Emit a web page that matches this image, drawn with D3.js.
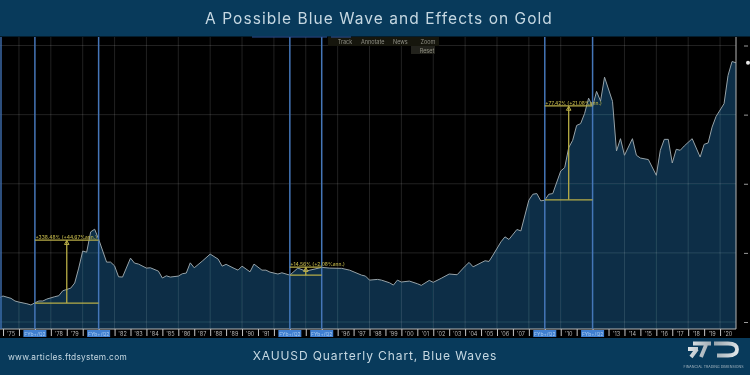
<!DOCTYPE html>
<html>
<head>
<meta charset="utf-8">
<script src="https://cdn.jsdelivr.net/npm/d3@7"></script>
<style>
	html, body { margin: 0; padding: 0; background: #000; }
	svg { display: block; }
	text { font-family: Inter, "Open Sans", sans-serif; }
</style>
</head>
<body>
<div id="chart"></div>
<script>
'use strict';

var dates = [
	1974.75, 1975, 1975.5, 1975.75, 1976, 1976.5, 1976.75, 1977, 1977.25, 1977.5, 1977.75,
	1978.25, 1978.5, 1978.75, 1979.25, 1979.5, 1979.75, 1980, 1980.25, 1980.5, 1980.75,
	1981, 1981.5, 1981.75, 1982, 1982.25, 1982.5, 1983, 1983.25, 1983.5, 1984, 1984.25, 1984.75,
	1985, 1985.25, 1985.5, 1986, 1986.25, 1986.5, 1986.75, 1987, 1987.5, 1988, 1988.5, 1988.75,
	1989, 1989.5, 1989.75, 1990, 1990.5, 1990.75, 1991.25, 1991.5, 1991.75, 1992.25, 1992.5,
	1993, 1993.5, 1994, 1995, 1995.5, 1996.25, 1996.75, 1997.5, 1997.75, 1998, 1998.5, 1998.75,
	1999.25, 1999.5, 1999.75, 2000, 2000.5, 2001, 2001.25, 2001.75, 2002, 2002.5, 2003, 2003.5,
	2004, 2004.25, 2004.5, 2005.25, 2005.5, 2005.75, 2006.25, 2006.5, 2006.75, 2007.25, 2007.5,
	2008, 2008.25, 2008.5, 2008.75, 2009, 2009.25, 2009.5, 2010, 2010.25, 2010.5, 2010.75,
	2011, 2011.25, 2011.5, 2011.75, 2012, 2012.25, 2012.5, 2012.75, 2013.25, 2013.5, 2013.75,
	2014, 2014.5, 2014.75, 2015, 2015.5, 2016, 2016.25, 2016.5, 2016.75, 2017, 2017.25, 2017.5,
	2017.75, 2018.25, 2018.75, 2019, 2019.25, 2019.5, 2019.75, 2020.25, 2020.5, 2020.75, 2021
];
var prices = [
	175, 188, 171, 152, 144, 132, 123, 139, 152, 152, 166,
	183, 190, 226, 245, 282, 390, 513, 505, 652, 671,
	599, 433, 433, 406, 327, 325, 462, 426, 419, 390, 392, 368,
	318, 334, 325, 332, 349, 354, 428, 392, 440, 491, 455, 404,
	417, 388, 375, 404, 363, 419, 375, 375, 361, 347, 356,
	339, 390, 368, 395, 390, 388, 375, 339, 332, 303, 308, 303,
	284, 267, 303, 289, 296, 277, 265, 301, 287, 316, 347, 342,
	404, 431, 399, 443, 438, 484, 580, 616, 597, 669, 659,
	881, 924, 929, 876, 881, 924, 929, 1092, 1117, 1261, 1314,
	1422, 1435, 1509, 1619, 1559, 1668, 1598, 1771, 1596, 1237, 1326,
	1206, 1326, 1206, 1186, 1175, 1061, 1242, 1321, 1321, 1150, 1249, 1242,
	1273, 1326, 1193, 1285, 1295, 1410, 1487, 1579, 1783, 1884, 1875
];

var waveStarts = [1977, 1993, 2009];
var waveEnds = [1981, 1995, 2012];
var waveLows = [137, 339, 884];
var waveHighs = [592, 397, 1563];
var waveLabels = ['+338.48% (+44.67%ann.)', '+14.56% (+2.08%ann.)', '+77.42% (+21.08%ann.)'];

var priceTicks = [0, 500, 1000, 1500, 2000];
var yearTicks = d3.range(1975, 2021);
var gridYears = d3.range(1976, 2021, 2);
var flagLabel = 'FYb+/Q2';
var toolbarTop = ['Track', 'Annotate', 'News', 'Zoom'];

var width = 750;
var height = 375;
var plot = {left: 0, right: 736, top: 37, bottom: 329};
var yellow = '#b8ad47';

var x = d3.scaleLinear().domain([1974.81, 2021]).range([plot.left, plot.right]);
var y = d3.scaleLinear().domain([0, 2000]).range([322, 45.5]);

var svg = d3.select('#chart').append('svg')
	.attr('width', width)
	.attr('height', height);

var defs = svg.append('defs');
defs.append('filter').attr('id', 'soft')
	.attr('filterUnits', 'userSpaceOnUse')
	.attr('x', 0).attr('y', 0).attr('width', width).attr('height', height)
	.append('feGaussianBlur').attr('stdDeviation', 0.5);

var logoFill = defs.append('linearGradient').attr('id', 'logoFill')
	.attr('gradientUnits', 'userSpaceOnUse')
	.attr('x1', 688).attr('x2', 738).attr('y1', 342).attr('y2', 356);
logoFill.append('stop').attr('offset', 0).attr('stop-color', '#e4e9ec');
logoFill.append('stop').attr('offset', 0.5).attr('stop-color', '#9aa6ae');
logoFill.append('stop').attr('offset', 1).attr('stop-color', '#e4e9ec');

svg.append('rect').attr('width', width).attr('height', height).attr('fill', '#000');

// header and footer bands
svg.append('rect').attr('width', width).attr('height', 36.5).attr('fill', '#083a5b');
svg.append('rect').attr('y', 338).attr('width', width).attr('height', 37).attr('fill', '#083a5b');

var chart = svg.append('g').attr('filter', 'url(#soft)');

var data = dates.map(function(d, i) { return {date: d, price: prices[i]}; });

chart.append('path')
	.datum(data)
	.attr('fill', '#0a2e46')
	.attr('d', d3.area()
		.x(function(d) { return x(d.date); })
		.y0(plot.bottom)
		.y1(function(d) { return y(d.price); }));

// grid sits over the area
chart.append('g').selectAll('line').data(gridYears).enter().append('line')
	.attr('x1', function(d) { return x(d); })
	.attr('x2', function(d) { return x(d); })
	.attr('y1', plot.top)
	.attr('y2', plot.bottom)
	.attr('stroke', '#fff')
	.attr('stroke-opacity', 0.13);

chart.append('g').selectAll('line').data(priceTicks).enter().append('line')
	.attr('x1', plot.left)
	.attr('x2', plot.right)
	.attr('y1', function(d) { return y(d); })
	.attr('y2', function(d) { return y(d); })
	.attr('stroke', '#fff')
	.attr('stroke-opacity', 0.13);

chart.append('path')
	.datum(data)
	.attr('fill', 'none')
	.attr('stroke', '#97a2a8')
	.attr('stroke-width', 1)
	.attr('d', d3.line()
		.x(function(d) { return x(d.date); })
		.y(function(d) { return y(d.price); }));

// frame
chart.append('path')
	.attr('d', 'M' + plot.left + ',' + plot.bottom + 'H' + plot.right + 'V' + plot.top)
	.attr('fill', 'none')
	.attr('stroke', '#b5b5b5')
	.attr('stroke-width', 1);

// year axis
var xAxis = d3.axisBottom(x)
	.tickValues(yearTicks)
	.tickSize(7)
	.tickFormat('');

var xAxisG = chart.append('g')
	.attr('transform', 'translate(0,' + plot.bottom + ')')
	.call(xAxis);
xAxisG.select('.domain').remove();
xAxisG.selectAll('line').attr('stroke', '#c5c5c5');

var flagged = d3.merge([waveStarts, waveEnds]);
var flagYears = flagged.concat(flagged.map(function(d) { return d - 1; }));

chart.append('g').selectAll('text')
	.data(yearTicks.filter(function(d) { return flagYears.indexOf(d) < 0; }))
	.enter().append('text')
	.attr('x', function(d) { return x(d + 0.5); })
	.attr('y', 335.5)
	.attr('text-anchor', 'middle')
	.attr('font-size', 5.5)
	.attr('fill', '#b5b5b5')
	.text(function(d) { return "'" + String(d).slice(2); });

// right axis
var yAxis = d3.axisRight(y).tickValues(priceTicks).tickSize(4).tickFormat('');
var yAxisG = chart.append('g')
	.attr('transform', 'translate(744,0)')
	.call(yAxis);
yAxisG.select('.domain').remove();
yAxisG.selectAll('line').attr('stroke', '#9a9a9a');

chart.append('circle')
	.attr('cx', 748)
	.attr('cy', y(prices[prices.length - 1]))
	.attr('r', 2)
	.attr('fill', '#e8e8e8');

// blue wave lines with their date flags
var waveLines = d3.merge([waveStarts, waveEnds]);

chart.append('line')
	.attr('x1', 1).attr('x2', 1)
	.attr('y1', plot.top).attr('y2', plot.bottom)
	.attr('stroke', '#3f6fb2').attr('stroke-width', 1.4);

chart.append('g').selectAll('line').data(waveLines).enter().append('line')
	.attr('x1', function(d) { return x(d); })
	.attr('x2', function(d) { return x(d); })
	.attr('y1', plot.top)
	.attr('y2', plot.bottom)
	.attr('stroke', '#4576b8')
	.attr('stroke-width', 1.5);

var flags = chart.append('g').selectAll('g').data(waveLines).enter().append('g')
	.attr('transform', function(d) { return 'translate(' + x(d) + ',330)'; });

flags.append('rect')
	.attr('x', -11.5)
	.attr('width', 23)
	.attr('height', 7)
	.attr('fill', '#3f7fd0');

flags.append('text')
	.attr('y', 5.8)
	.attr('text-anchor', 'middle')
	.attr('font-size', 5)
	.attr('fill', '#a9c9ee')
	.text(flagLabel);

// yellow measure annotations
var waves = chart.append('g').selectAll('g').data(waveStarts).enter().append('g')
	.attr('stroke', yellow)
	.attr('fill', 'none');

function addWaveLevel(values) {
	waves.append('line')
		.attr('x1', function(d) { return x(d); })
		.attr('x2', function(d, i) { return x(waveEnds[i]); })
		.attr('y1', function(d, i) { return y(values[i]); })
		.attr('y2', function(d, i) { return y(values[i]); })
		.attr('stroke-width', 1.3);
}
addWaveLevel(waveLows);
addWaveLevel(waveHighs);

waves.append('line')
	.attr('x1', function(d, i) { return x((d + waveEnds[i]) / 2); })
	.attr('x2', function(d, i) { return x((d + waveEnds[i]) / 2); })
	.attr('y1', function(d, i) { return y(waveLows[i]); })
	.attr('y2', function(d, i) { return y(waveHighs[i]); })
	.attr('stroke-width', 1.3);

waves.append('path')
	.attr('transform', function(d, i) {
		return 'translate(' + x((d + waveEnds[i]) / 2) + ',' + (y(waveHighs[i]) + 3) + ')';
	})
	.attr('d', d3.symbol().type(d3.symbolTriangle).size(9));

waves.append('text')
	.attr('x', function(d) { return x(d) + 0.5; })
	.attr('y', function(d, i) { return y(waveHighs[i]) - 1.2; })
	.attr('font-size', 4.9)
	.attr('font-weight', 500)
	.attr('stroke', 'none')
	.attr('fill', yellow)
	.text(function(d, i) { return waveLabels[i]; });

// chart toolbar
var toolbar = chart.append('g');
toolbar.append('rect').attr('x', 328).attr('y', 37).attr('width', 111).attr('height', 9).attr('fill', '#15150f');
toolbar.append('rect').attr('x', 411).attr('y', 46).attr('width', 24).attr('height', 8).attr('fill', '#22221c');

var toolbarX = d3.scalePoint().domain(toolbarTop).range([345, 428]);
toolbar.selectAll('text.top').data(toolbarTop).enter().append('text')
	.attr('class', 'top')
	.attr('x', function(d) { return toolbarX(d); })
	.attr('y', 44)
	.attr('text-anchor', 'middle')
	.attr('font-size', 5.5)
	.attr('fill', '#8f8f82')
	.text(function(d) { return d; });

toolbar.append('text')
	.attr('x', 427).attr('y', 52.5)
	.attr('text-anchor', 'middle')
	.attr('font-size', 5.5)
	.attr('fill', '#8f8f82')
	.text('Reset');

toolbar.append('path')
	.attr('d', 'M252,37H327M331,37H351')
	.attr('stroke', '#2f57a0')
	.attr('stroke-width', 1.2);

// page texts
var pageText = svg.append('g').attr('filter', 'url(#soft)').attr('fill', '#c6d8e2');

pageText.append('text')
	.attr('x', 379)
	.attr('y', 24)
	.attr('text-anchor', 'middle')
	.attr('font-size', 15.5)
	.attr('letter-spacing', 1.05)
	.text('A Possible Blue Wave and Effects on Gold');

pageText.append('text')
	.attr('x', 8)
	.attr('y', 360)
	.attr('font-size', 8.3)
	.attr('letter-spacing', 0.3)
	.text('www.articles.ftdsystem.com');

pageText.append('text')
	.attr('x', 375)
	.attr('y', 360)
	.attr('text-anchor', 'middle')
	.attr('font-size', 12)
	.attr('letter-spacing', 0.9)
	.text('XAUUSD Quarterly Chart, Blue Waves');

// logo
var logo = svg.append('g').attr('filter', 'url(#soft)');

logo.append('path')
	.attr('d', 'M693,343.5H711M688,349H698M697,349L691,357M706,345L701,357M714,343.5H728Q737,343.5 737,349.5Q737,355.5 728,355.5H717')
	.attr('fill', 'none')
	.attr('stroke', 'url(#logoFill)')
	.attr('stroke-width', 3.8);

logo.append('text')
	.attr('x', 713.5)
	.attr('y', 368)
	.attr('text-anchor', 'middle')
	.attr('font-size', 3.6)
	.attr('fill', '#a8b8c2')
	.text('FINANCIAL TRADING DIMENSIONS');
</script>
</body>
</html>
